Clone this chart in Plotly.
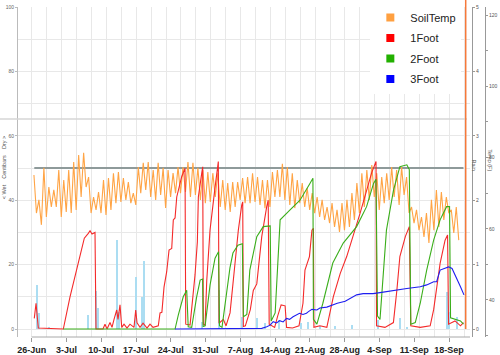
import plotly.graph_objects as go
import pandas as pd

START = pd.Timestamp("2013-06-26")
DAY_MS = 86400000

# ---- data (x values are days since 26-Jun) ----
soil_high = [75.1, 68.1, 77.1, 71.7, 70.9, 76.5, 73.7, 76.5, 78.7, 80.7, 81.3, 74.5, 68.9, 70.3, 73.7,
             74.2, 75.6, 75.9, 74.2, 73.1, 70.0, 77.3, 78.5, 78.7, 76.5, 78.5, 77.1, 76.5, 75.6, 77.3,
             77.3, 78.7, 78.5, 77.1, 76.5, 75.9, 75.6, 75.6, 73.7, 72.8, 73.1, 73.1, 74.2, 74.5, 75.6,
             74.5, 73.7, 73.7, 75.9, 76.5, 78.2, 77.3, 75.6, 73.7, 72.8, 71.4, 70.0, 68.9, 68.1, 66.1,
             67.2, 65.3, 67.2, 68.1, 70.0, 72.8, 75.6, 76.5, 77.9, 75.6, 74.5, 75.6, 77.3, 76.5, 77.3,
             74.5, 66.1, 65.3, 63.3, 64.4, 68.1, 70.9, 70.3, 68.9, 65.3, 66.1]
soil_low = [64.4, 61.1, 63.3, 66.1, 66.1, 63.3, 64.7, 64.4, 65.3, 68.9, 71.7, 64.4, 65.3, 64.4, 63.9,
            65.3, 67.2, 67.5, 68.1, 67.2, 66.7, 70.0, 70.9, 68.9, 68.1, 69.5, 65.8, 68.9, 70.0, 70.0,
            70.3, 68.9, 69.5, 68.1, 67.2, 67.5, 68.9, 66.1, 65.3, 64.7, 66.1, 68.1, 67.2, 67.2, 67.5,
            66.7, 65.8, 66.1, 68.9, 68.9, 68.1, 66.7, 65.8, 67.2, 66.1, 65.3, 64.4, 63.3, 62.5, 61.6,
            60.5, 59.1, 59.6, 60.5, 62.5, 64.4, 66.1, 68.1, 68.9, 65.3, 67.2, 68.1, 68.9, 66.7, 69.5,
            64.4, 61.6, 59.6, 57.7, 56.0, 59.6, 60.5, 62.5, 64.4, 58.8, 56.8]

foot1_day = [0.52, 0.87, 1.33, 6.36, 7.71, 8.72, 9.72, 10.59, 11.39, 11.74, 12.14, 12.74, 12.94, 14.35,
             14.75, 15.16, 15.76, 16.16, 16.57, 17.11, 17.37, 17.77, 18.12, 18.58, 19.18, 19.78, 20.59,
             20.93, 21.2, 21.8, 22.41, 23.21, 23.81, 24.42, 25.48, 25.83, 26.2, 26.63, 27.17, 27.64,
             28.18, 28.5, 28.85, 29.19, 30.19, 30.86, 31.0, 31.87, 32.21, 32.87, 33.34, 33.54, 34.22,
             34.42, 34.54, 34.89, 35.23, 35.89, 36.9, 37.56, 37.7, 38.57, 39.11, 39.92, 40.92, 41.59,
             42.27, 42.47, 42.6, 43.0, 44.0, 44.6, 45.3, 46.3, 47.3, 47.6, 47.8, 48.9, 49.5, 50.2, 51.0,
             51.3, 52.5, 53.8, 54.6, 55.0, 55.9, 56.4, 56.7, 56.8, 58.0, 59.4, 60.7, 62.1, 63.4, 64.7,
             66.1, 67.4, 68.4, 69.3, 69.4, 71.1, 72.8, 73.5, 74.1, 75.2, 76.0, 76.3, 78.2, 80.2, 80.9,
             82.2, 83.2, 83.7, 83.9, 85.2, 86.3, 86.9]
foot1_val = [3.3, 8, 0.3, 0, 10, 16.2, 23, 28.2, 29.7, 30.5, 29.5, 30, 0, 0,
             1.5, 0, 2, 0.5, 3, 5.9, 3, 7.5, 0.5, 1.5, 0.3, 1.5, 0.5,
             5.9, 1.9, 0.5, 1.8, 0.3, 1.5, 0.5, 1, 5, 5.2, 13, 17.8, 24.5,
             25, 33.9, 34.5, 41, 47.3, 49.9, 1.5, 1.2, 6.5, 16.8, 27.1, 41, 48.4,
             50.4, 1.5, 1.2, 15, 30.7, 44, 52, 1.8, 3, 1, 5, 20.4, 30.7,
             38.5, 39.5, 0.8, 1, 6, 12, 14, 28.7, 38, 40, 1.5, 0.5, 4, 7.5, 7.2,
             0.5, 0.3, 1, 8, 18.3, 22.5, 30.7, 31.3, 0.5, 1, 0.5, 10, 17.3, 22.5, 28.7,
             36, 43, 48.4, 52, 1, 0.5, 2, 12.1, 22.5, 28.7, 31.8, 1, 0.5, 1, 6,
             20.4, 27.6, 29.2, 1.5, 2.5, 1, 2]

foot2_day = [6.36, 28.85, 29.5, 30.5, 31.2, 31.5, 32.2, 33.2, 33.9, 34.4, 34.5, 34.9, 35.9, 36.9, 37.6,
             37.8, 38.3, 39.9, 40.5, 41.5, 42.4, 42.6, 43.3, 43.9, 45.3, 46.6, 48.0, 48.2, 49.0, 50.0,
             52.0, 54.0, 56.0, 56.6, 56.7, 57.4, 58.6, 60.6, 62.7, 65.4, 67.4, 68.8, 69.3, 69.6, 70.1,
             71.4, 72.8, 74.1, 75.5, 76.0, 76.3, 77.2, 78.2, 79.5, 80.9, 82.2, 83.5, 84.1, 84.3, 85.2,
             86.3, 86.9]
foot2_val = [0, 0, 4.3, 10, 12, 0.7, 0.5, 10, 15.2, 15.5, 0.8, 1, 13.7, 22, 24,
             1, 0.5, 19, 23.6, 26, 26.5, 3.8, 4.5, 18.3, 28.7, 31.8, 32, 2.5, 5, 33.9,
             37, 40, 45.2, 46.8, 3, 1.5, 8, 20.5, 26.7, 31.8, 38, 45.2, 46.5, 4, 3,
             30.7, 43, 50.4, 51, 49.5, 1.5, 2, 8, 18.3, 27.6, 33.9, 38, 38, 3.5, 3,
             2.5, 1.5]

foot3_day = [28.85, 46.3, 47.3, 48.0, 48.6, 49.3, 49.9, 50.6, 51.3, 51.9, 52.6, 53.9, 54.6, 55.3, 55.7,
             56.4, 57.4, 58.0, 59.4, 60.7, 61.5, 63.1, 64.7, 65.4, 66.7, 68.7, 70.1, 71.4, 72.8, 75.5,
             78.2, 79.5, 80.9, 81.5, 82.2, 82.9, 83.9, 84.6, 85.3, 86.3, 87.0]
foot3_val = [0, 0.2, 0.7, 1.2, 2.3, 1.9, 2.6, 2.2, 3.3, 3.0, 3.8, 4.9, 4.5, 4.9, 5.4,
             6.1, 5.9, 6.5, 6.8, 7.5, 8, 8.6, 10, 10.6, 11, 11, 11.3, 11.6, 12.1, 12.6,
             13.1, 13.7, 14.7, 14.7, 18.3, 18.8, 19.3, 18.8, 16.2, 13.1, 10.6]

rain_day = [1.13, 1.47, 3.48, 11.27, 12.88, 13.29, 17.23, 17.57, 20.93, 22.26, 22.61, 34.34, 37.7,
            42.23, 45.29, 46.96, 49.78, 54.21, 55.62, 58.03, 61.05, 64.41, 69.71, 74.14, 75.49,
            83.6, 84.0, 85.6]
rain_in = [0.68, 0.25, 0.03, 0.21, 0.59, 0.33, 1.38, 0.27, 0.80, 0.50, 1.06, 0.11, 0.60,
           0.19, 0.17, 0.09, 0.14, 0.09, 0.11, 0.05, 0.04, 0.06, 0.14, 0.17, 0.03,
           0.58, 0.27, 0.19]

threshold = 50          # centibars
now_day = 87.35         # marker at end of record
x_range_days = [-2.96, 88.22]


def to_dates(days):
    return [START + pd.Timedelta(days=float(d)) for d in days]


soil_day = []
soil_val = []
for k, (hi, lo) in enumerate(zip(soil_high, soil_low)):
    soil_day += [k + 0.45, k + 0.95]
    soil_val += [hi, lo]

SANS = "Liberation Sans, Arial, sans-serif"

fig = go.Figure()

# rain bars
fig.add_trace(go.Bar(x=to_dates(rain_day), y=rain_in, yaxis="y2", width=0.4 * DAY_MS,
                     marker=dict(color="#ABDDF2", line=dict(width=0)), showlegend=False,
                     name="Rain", hoverinfo="skip"))
# threshold line
span = [min(foot1_day), max(foot1_day)]
fig.add_trace(go.Scatter(x=to_dates(span), y=[threshold, threshold], yaxis="y",
                         mode="lines", line=dict(color="#8E9A9A", width=2),
                         showlegend=False, hoverinfo="skip"))
# soil temperature
fig.add_trace(go.Scatter(x=to_dates(soil_day), y=soil_val, yaxis="y3", mode="lines",
                         line=dict(color="#FFA445", width=1.1), showlegend=False, name="SoilTemp"))
# moisture sensors
series = [("1Foot", foot1_day, foot1_val, "#F42A2A"),
          ("2Foot", foot2_day, foot2_val, "#3AAE1A"),
          ("3Foot", foot3_day, foot3_val, "#1E1EF0")]
for name, d, v, c in series:
    fig.add_trace(go.Scatter(x=to_dates(d), y=v, yaxis="y4", mode="lines",
                             line=dict(color=c, width=1.1), showlegend=False, name=name))

# legend swatches
legend_items = [("SoilTemp", "#FFA040"), ("1Foot", "#FF0000"), ("2Foot", "#22B000"), ("3Foot", "#0000FF")]
for name, c in legend_items:
    fig.add_trace(go.Scatter(x=[None], y=[None], mode="markers", name=name, legendgroup=name,
                             marker=dict(symbol="square", size=8, color=c), yaxis="y4"))

x0 = START + pd.Timedelta(days=x_range_days[0])
x1 = START + pd.Timedelta(days=x_range_days[1])

fig.update_layout(
    width=500, height=355,
    margin=dict(l=17, r=15, t=7, b=18, autoexpand=False),
    paper_bgcolor="white", plot_bgcolor="white",
    bargap=0,
    showlegend=True,
    legend=dict(x=0.755, y=1.012, xanchor="left", yanchor="top",
                bgcolor="white", borderwidth=0,
                font=dict(family=SANS, size=11, color="#222"), itemwidth=30,
                tracegroupgap=1.5, traceorder="grouped"),
    xaxis=dict(domain=[0, 0.968], type="date", range=[x0, x1], automargin=False,
               tick0=START, dtick=7 * DAY_MS, tickformat="%-d-%b", tickangle=0,
               ticks="outside", ticklen=4, tickcolor="#999",
               tickfont=dict(family=SANS, size=9, color="#222", weight="bold"),
               showgrid=False, zeroline=False, showline=False,
               minor=dict(dtick=3 * DAY_MS, tick0=START + pd.Timedelta(hours=1),
                          showgrid=True, gridcolor="#E8E8E8", gridwidth=1, ticks="")),
    yaxis=dict(range=[-2.48, 100], tick0=0, dtick=20, anchor="free", position=0, automargin=False,
               showgrid=True, gridcolor="#E8E8E8", zeroline=False,
               showline=True, linecolor="#BBBBBB", ticks="outside", ticklen=2, tickcolor="#BBB",
               tickfont=dict(family=SANS, size=5, color="#666"),
               minor=dict(dtick=10, showgrid=True, gridcolor="#E8E8E8", ticks="")),
    yaxis2=dict(overlaying="y", side="right", anchor="free", position=0.972, automargin=False,
                range=[-0.124, 5], tick0=0, dtick=1, showgrid=False, zeroline=False,
                showline=True, linecolor="#999", ticks="outside", ticklen=2, tickcolor="#999",
                tickfont=dict(family=SANS, size=5, color="#555")),
    yaxis3=dict(overlaying="y", side="right", anchor="free", position=1.0, automargin=False,
                range=[29.61, 122.25], tick0=40, dtick=20, showgrid=False, zeroline=False,
                showline=True, linecolor="#999", ticks="outside", ticklen=2, tickcolor="#999",
                tickfont=dict(family=SANS, size=5, color="#555"),
                minor=dict(dtick=10, ticks="outside", ticklen=1.5, tickcolor="#999")),
    yaxis4=dict(overlaying="y", range=[-2.48, 100], visible=False, automargin=False),
)

shapes = [
    # bottom axis line
    dict(type="line", xref="x", yref="paper", x0=START, x1=x1, y0=0, y1=0,
         line=dict(color="#A8A8A8", width=1)),
    # pale separator line
    dict(type="line", xref="paper", yref="paper", x0=-0.0363, x1=0.9615, y0=0.6606, y1=0.6606,
         line=dict(color="#D6D6D6", width=1.5)),
    # end-of-record marker
    dict(type="line", xref="x", yref="paper", x0=START + pd.Timedelta(days=now_day),
         x1=START + pd.Timedelta(days=now_day), y0=0.024, y1=1.021,
         line=dict(color="#F5793A", width=1.5)),
]
fig.update_layout(shapes=shapes)

fig.add_annotation(text="< Wet    Centibars    Dry >", xref="paper", yref="paper",
                   x=-0.038, y=0.512, textangle=-90, showarrow=False,
                   font=dict(family=SANS, size=5.5, color="#555"))
fig.add_annotation(text="Rain", xref="paper", yref="paper", x=0.987, y=0.52,
                   textangle=90, showarrow=False, font=dict(family=SANS, size=5.5, color="#555"))
fig.add_annotation(text="Temp (F)", xref="paper", yref="paper", x=1.021, y=0.536,
                   textangle=90, showarrow=False, font=dict(family=SANS, size=5.5, color="#555"))

fig.write_html("out.html",
               config={"displayModeBar": False, "staticPlot": True},
               post_script="document.body.style.margin='0';document.body.style.padding='0';"
                           "document.body.style.overflow='hidden';")
